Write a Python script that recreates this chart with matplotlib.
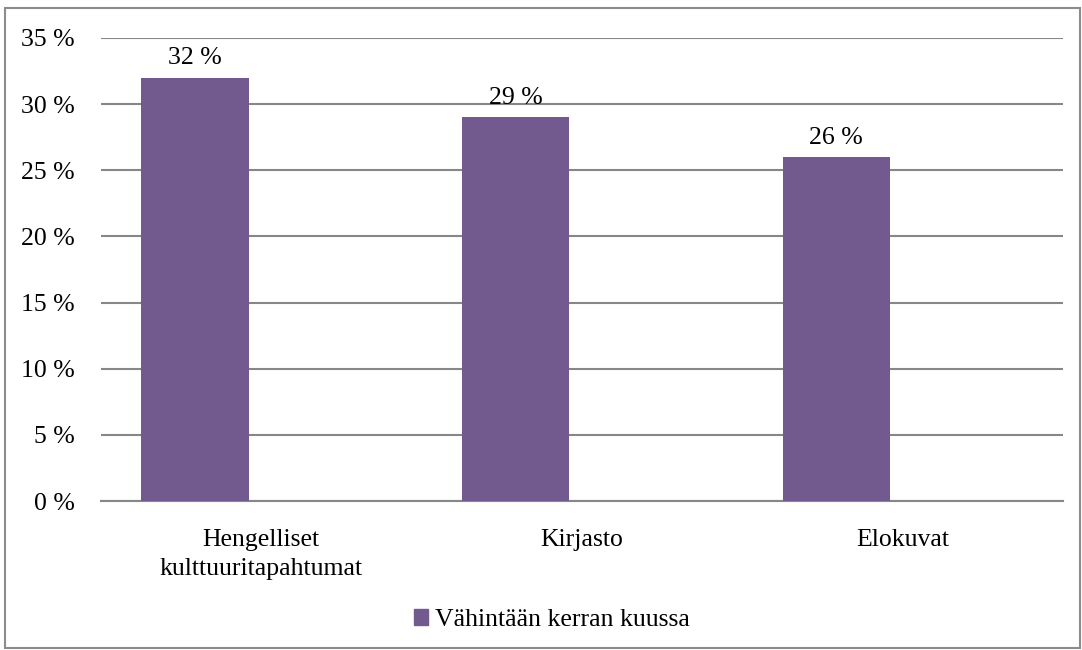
import matplotlib.pyplot as plt
from matplotlib.patches import Rectangle, Patch

plt.rcParams['font.family'] = ['Liberation Serif', 'DejaVu Serif']

categories = ['Hengelliset\nkulttuuritapahtumat', 'Kirjasto', 'Elokuvat']
values = [32, 29, 26]
labels = ['32 %', '29 %', '26 %']
series_name = 'Vähintään kerran kuussa'
yticks = [0, 5, 10, 15, 20, 25, 30, 35]

bar_color = '#725a8f'
grid_color = '#878787'
fs = 18.5

fig = plt.figure(figsize=(10.82, 6.5), dpi=100)
ax = fig.add_axes([101 / 1082, 1 - 501 / 650, 962 / 1082, 463 / 650])

x = list(range(len(categories)))
xb = [i - 0.207 for i in x]
bars = ax.bar(xb, values, width=0.334, color=bar_color, zorder=3)
for xi, v, lab in zip(xb, values, labels):
    ax.annotate(lab, (xi, v), xytext=(0, 6), textcoords='offset points',
                ha='center', va='bottom', fontsize=fs)

ax.set_xlim(-0.5, 2.5)
ax.set_ylim(0, 35)
ax.set_yticks(yticks)
ax.set_yticklabels([f'{t} %' for t in yticks], fontsize=fs)
ax.set_xticks(x)
ax.set_xticklabels(categories, fontsize=fs, linespacing=1.4)
ax.tick_params(axis='both', length=0)
ax.tick_params(axis='y', pad=19)
ax.tick_params(axis='x', pad=20)
ax.yaxis.grid(True, color=grid_color, linewidth=1.5, zorder=0)
for s in ['top', 'right', 'left']:
    ax.spines[s].set_visible(False)
ax.spines['bottom'].set_color(grid_color)
ax.spines['bottom'].set_linewidth(1.5)

fig.legend(handles=[Patch(color=bar_color, label=series_name)], loc='center',
           bbox_to_anchor=(552 / 1082, 1 - 620 / 650), frameon=False,
           fontsize=fs, handlelength=0.55, handleheight=0.55, handletextpad=0.3)

fig.patches.append(Rectangle((5 / 1082, 2 / 650), 1075 / 1082, 640 / 650,
                             transform=fig.transFigure, fill=False,
                             edgecolor='#8c8c8c', linewidth=1.5))

fig.savefig('out.png', dpi=100)
